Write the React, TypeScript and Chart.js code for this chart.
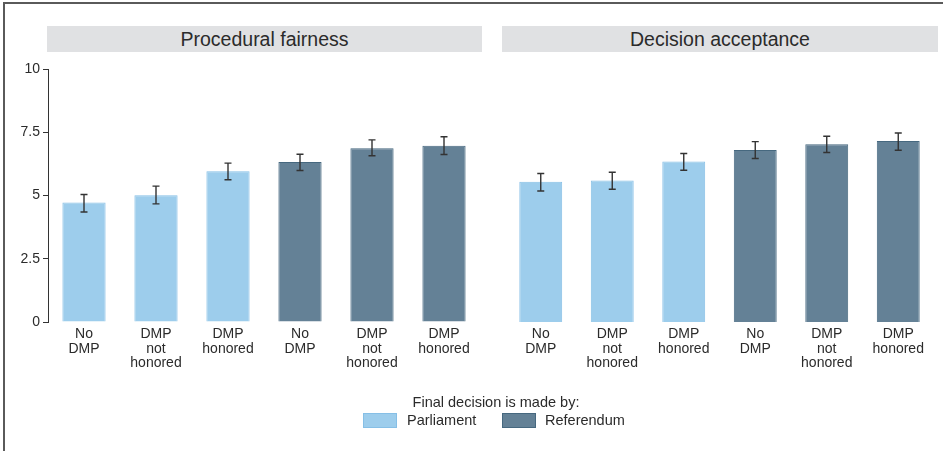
import React, { useEffect, useRef } from "react";
import { Chart, registerables } from "chart.js";

Chart.register(...registerables);

const FONT = "'Liberation Sans', Arial, Helvetica, sans-serif";

const categories: string[][] = [
  ["No", "DMP"],
  ["DMP", "not", "honored"],
  ["DMP", "honored"],
  ["No", "DMP"],
  ["DMP", "not", "honored"],
  ["DMP", "honored"],
];
const panelTitles = ["Procedural fairness", "Decision acceptance"];
const seriesNames = ["Parliament", "Referendum"];
const legendTitle = "Final decision is made by:";
const yTicks = [0, 2.5, 5, 7.5, 10];

const fairnessParliament = [4.72, 5.01, 5.96, null, null, null];
const fairnessReferendum = [null, null, null, 6.32, 6.87, 6.97];
const fairnessLow = [4.35, 4.67, 5.62, 5.99, 6.57, 6.62];
const fairnessHigh = [5.04, 5.37, 6.28, 6.63, 7.2, 7.32];

const acceptanceParliament = [5.54, 5.59, 6.34, null, null, null];
const acceptanceReferendum = [null, null, null, 6.8, 7.03, 7.15];
const acceptanceLow = [5.18, 5.25, 6.0, 6.46, 6.7, 6.79];
const acceptanceHigh = [5.87, 5.92, 6.66, 7.13, 7.34, 7.47];

const PARL_FILL = "#9dcdec";
const PARL_BORDER = "#86bfe6";
const REF_FILL = "#648196";
const REF_BORDER = "#46687f";
const TEXT = "#2b2b2b";

function makeErrorBars(low: number[], high: number[]) {
  return {
    id: "errorBars",
    afterDatasetsDraw(chart: any) {
      const ctx = chart.ctx;
      const xs = chart.scales.x;
      const ys = chart.scales.y;
      ctx.save();
      ctx.strokeStyle = "#333333";
      ctx.lineWidth = 1.4;
      for (let i = 0; i < low.length; i++) {
        const x = xs.getPixelForValue(i);
        const yl = ys.getPixelForValue(low[i]);
        const yh = ys.getPixelForValue(high[i]);
        ctx.beginPath();
        ctx.moveTo(x, yl);
        ctx.lineTo(x, yh);
        ctx.moveTo(x - 3.5, yl);
        ctx.lineTo(x + 3.5, yl);
        ctx.moveTo(x - 3.5, yh);
        ctx.lineTo(x + 3.5, yh);
        ctx.stroke();
      }
      ctx.restore();
    },
  };
}

function buildConfig(
  parl: (number | null)[],
  ref: (number | null)[],
  low: number[],
  high: number[],
  showY: boolean,
  padLeft: number,
  padRight: number
): any {
  return {
    type: "bar",
    data: {
      labels: categories,
      datasets: [
        {
          label: seriesNames[0],
          data: parl,
          backgroundColor: PARL_FILL,
          borderColor: PARL_BORDER,
          borderWidth: 1,
          grouped: false,
          barPercentage: 0.6,
          categoryPercentage: 1,
        },
        {
          label: seriesNames[1],
          data: ref,
          backgroundColor: REF_FILL,
          borderColor: REF_BORDER,
          borderWidth: 1,
          grouped: false,
          barPercentage: 0.6,
          categoryPercentage: 1,
        },
      ],
    },
    options: {
      animation: false,
      responsive: false,
      maintainAspectRatio: false,
      layout: { padding: { top: 69, bottom: 69, left: padLeft, right: padRight } },
      plugins: { legend: { display: false }, tooltip: { enabled: false } },
      scales: {
        x: {
          offset: true,
          grid: { display: false, drawTicks: false },
          border: { display: false },
          ticks: {
            color: TEXT,
            font: { family: FONT, size: 14, lineHeight: 1.04 },
            padding: 5,
            maxRotation: 0,
            autoSkip: false,
          },
          afterFit(scale: any) {
            scale.height = 60;
          },
        },
        y: {
          display: showY,
          min: 0,
          max: 10,
          afterBuildTicks(scale: any) {
            scale.ticks = yTicks.map((v) => ({ value: v }));
          },
          grid: {
            drawOnChartArea: false,
            drawTicks: true,
            tickLength: 5,
            color: "#333333",
          },
          border: { display: true, color: "#333333", width: 1 },
          ticks: {
            color: TEXT,
            font: { family: FONT, size: 14 },
            padding: 3,
            callback: (v: number) => String(v),
          },
          afterFit(scale: any) {
            scale.width = showY ? 48 : 0;
          },
        },
      },
    },
    plugins: [makeErrorBars(low, high)],
  };
}

function Panel(props: {
  left: number;
  width: number;
  parl: (number | null)[];
  refv: (number | null)[];
  low: number[];
  high: number[];
  showY: boolean;
  padLeft: number;
  padRight: number;
}) {
  const canvasRef = useRef<HTMLCanvasElement | null>(null);
  useEffect(() => {
    if (!canvasRef.current) return;
    const chart = new Chart(
      canvasRef.current,
      buildConfig(props.parl, props.refv, props.low, props.high, props.showY, props.padLeft, props.padRight)
    );
    return () => chart.destroy();
  }, []);
  return (
    <canvas
      ref={canvasRef}
      width={props.width}
      height={451}
      style={{ position: "absolute", left: props.left, top: 0, width: props.width, height: 451 }}
    />
  );
}

const headerStyle = (left: number, width: number): React.CSSProperties => ({
  position: "absolute",
  left,
  top: 26,
  width,
  height: 26,
  background: "#e0e1e3",
  color: TEXT,
  fontFamily: FONT,
  fontSize: 19.5,
  display: "flex",
  alignItems: "center",
  justifyContent: "center",
});

export default function App() {
  return (
    <div
      style={{
        position: "absolute",
        left: 0,
        top: 0,
        width: 943,
        height: 451,
        background: "#ffffff",
        overflow: "hidden",
      }}
    >
      <div
        style={{
          position: "absolute",
          left: 3,
          top: 2,
          width: 945,
          height: 460,
          borderTop: "2px solid #5a5a5a",
          borderLeft: "2px solid #5a5a5a",
        }}
      />
      <div style={headerStyle(47, 435)}>{panelTitles[0]}</div>
      <div style={headerStyle(502, 436)}>{panelTitles[1]}</div>
      <Panel
        left={0}
        width={482}
        parl={fairnessParliament}
        refv={fairnessReferendum}
        low={fairnessLow}
        high={fairnessHigh}
        showY={true}
        padLeft={0}
        padRight={2}
      />
      <Panel
        left={482}
        width={461}
        parl={acceptanceParliament}
        refv={acceptanceReferendum}
        low={acceptanceLow}
        high={acceptanceHigh}
        showY={false}
        padLeft={23}
        padRight={9}
      />
      <div
        style={{
          position: "absolute",
          left: 396,
          top: 394,
          width: 200,
          textAlign: "center",
          fontFamily: FONT,
          fontSize: 14.5,
          lineHeight: "16px",
          color: TEXT,
        }}
      >
        {legendTitle}
      </div>
      <div
        style={{
          position: "absolute",
          left: 363,
          top: 413,
          width: 32,
          height: 13,
          background: PARL_FILL,
          border: `1px solid ${PARL_BORDER}`,
        }}
      />
      <div
        style={{
          position: "absolute",
          left: 407,
          top: 412,
          fontFamily: FONT,
          fontSize: 14.5,
          lineHeight: "16px",
          color: TEXT,
        }}
      >
        {seriesNames[0]}
      </div>
      <div
        style={{
          position: "absolute",
          left: 502,
          top: 413,
          width: 32,
          height: 13,
          background: REF_FILL,
          border: `1px solid ${REF_BORDER}`,
        }}
      />
      <div
        style={{
          position: "absolute",
          left: 545,
          top: 412,
          fontFamily: FONT,
          fontSize: 14.5,
          lineHeight: "16px",
          color: TEXT,
        }}
      >
        {seriesNames[1]}
      </div>
    </div>
  );
}
